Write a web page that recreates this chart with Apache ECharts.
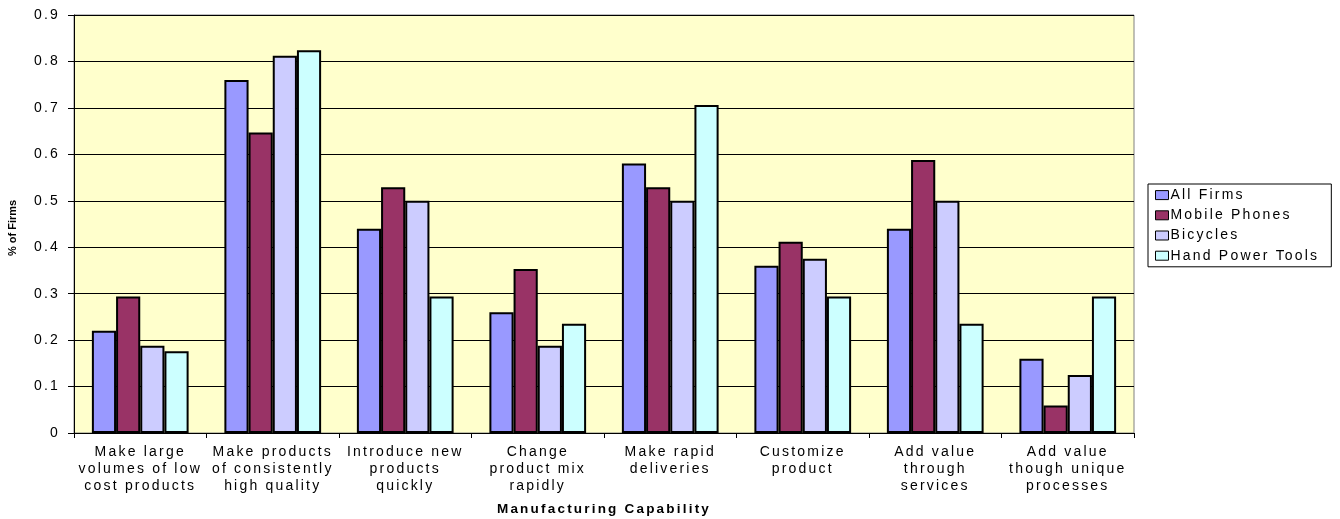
<!DOCTYPE html>
<html>
<head>
<meta charset="utf-8">
<title>Manufacturing Capability</title>
<script src="https://cdn.jsdelivr.net/npm/echarts@6/dist/echarts.min.js"></script>
<style>
  html, body { margin: 0; padding: 0; background: #ffffff; }
  #chart { width: 1340px; height: 519px; }
</style>
</head>
<body>
<div id="chart"></div>
<script>
// Wide tracking on all text, like the spreadsheet export; the small bold axis title stays tight.
(function () {
  const proto = CanvasRenderingContext2D.prototype;
  const baseFill = proto.fillText;
  const baseMeasure = proto.measureText;
  function track(ctx) {
    ctx.letterSpacing = /11px/.test(ctx.font) ? '0px' : '2.2px';
  }
  proto.fillText = function () { track(this); return baseFill.apply(this, arguments); };
  proto.measureText = function () { track(this); return baseMeasure.apply(this, arguments); };
})();

const categories = [
  'Make large\nvolumes of low\ncost products',
  'Make products\nof consistently\nhigh quality',
  'Introduce new\nproducts\nquickly',
  'Change\nproduct mix\nrapidly',
  'Make rapid\ndeliveries',
  'Customize\nproduct',
  'Add value\nthrough\nservices',
  'Add value\nthough unique\nprocesses'
];

const seriesNames = ['All Firms', 'Mobile Phones', 'Bicycles', 'Hand Power Tools'];

const allFirms      = [0.22, 0.76, 0.44, 0.26, 0.58, 0.36, 0.44, 0.16];
const mobilePhones  = [0.294, 0.647, 0.529, 0.353, 0.529, 0.412, 0.588, 0.059];
const bicycles      = [0.188, 0.812, 0.5, 0.188, 0.5, 0.375, 0.5, 0.125];
const handPowerTools = [0.176, 0.824, 0.294, 0.235, 0.706, 0.294, 0.235, 0.294];

const yTicks = { min: 0, max: 0.9, interval: 0.1 };

const colors = ['#9999FF', '#993366', '#CCCCFF', '#CCFFFF'];
const values = [allFirms, mobilePhones, bicycles, handPowerTools];

const chart = echarts.init(document.getElementById('chart'), null, { renderer: 'canvas' });

const font = 'Arial, "Liberation Sans", sans-serif';

chart.setOption({
  animation: false,
  backgroundColor: '#ffffff',
  textStyle: { fontFamily: font, color: '#000' },
  grid: {
    left: 74, right: 206, top: 15, bottom: 86,
    outerBoundsMode: 'none',
    containLabel: false,
    show: true,
    backgroundColor: '#FFFFCC',
    borderColor: '#808080',
    borderWidth: 1
  },
  legend: {
    orient: 'vertical',
    left: 1148,
    top: 184,
    itemWidth: 13,
    itemHeight: 9,
    itemGap: 4,
    padding: [3, 12, 3, 7],
    backgroundColor: '#ffffff',
    borderColor: '#000000',
    borderWidth: 1,
    borderRadius: 0,
    icon: 'rect',
    itemStyle: { borderColor: '#000', borderWidth: 1 },
    textStyle: { fontFamily: font, fontSize: 14, color: '#000', padding: [0, 0, 0, -3] },
    data: seriesNames
  },
  xAxis: {
    type: 'category',
    data: categories,
    name: 'Manufacturing Capability',
    nameLocation: 'middle',
    nameGap: 68,
    nameTextStyle: { fontFamily: font, fontSize: 13.5, fontWeight: 'bold', color: '#000' },
    axisLine: { lineStyle: { color: '#000', width: 1 } },
    axisTick: { show: true, length: 5, interval: 0, lineStyle: { color: '#000' } },
    axisLabel: {
      interval: 0,
      margin: 11,
      fontFamily: font,
      fontSize: 14,
      lineHeight: 17,
      color: '#000'
    },
    splitLine: { show: false }
  },
  yAxis: {
    type: 'value',
    min: yTicks.min,
    max: yTicks.max,
    interval: yTicks.interval,
    name: '% of Firms',
    nameLocation: 'middle',
    nameGap: 56,
    nameRotate: 90,
    nameTextStyle: { fontFamily: font, fontSize: 11, fontWeight: 'bold', color: '#000', padding: [0, 8, 0, 0] },
    axisLine: { show: true, lineStyle: { color: '#000', width: 1 } },
    axisTick: { show: true, length: 6, lineStyle: { color: '#000' } },
    axisLabel: {
      margin: 14,
      fontFamily: font,
      fontSize: 14,
      color: '#000',
      formatter: function (v) { return v === 0 ? '0' : v.toFixed(1); }
    },
    splitLine: { show: true, lineStyle: { color: '#000', width: 1 } }
  },
  series: seriesNames.map(function (name, i) {
    return {
      name: name,
      type: 'bar',
      data: values[i],
      barGap: '0%',
      barCategoryGap: '27%',
      itemStyle: { color: colors[i], borderColor: '#000', borderWidth: 2 }
    };
  })
});
</script>
</body>
</html>
